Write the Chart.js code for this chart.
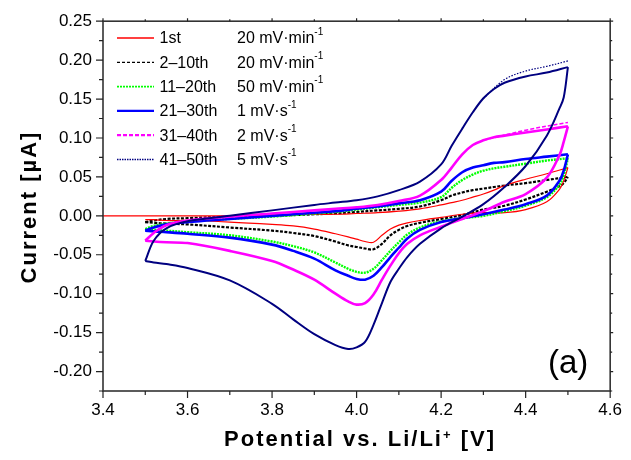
<!DOCTYPE html>
<html><head><meta charset="utf-8">
<script src="https://cdn.jsdelivr.net/npm/chart.js@4.4.0/dist/chart.umd.min.js"></script>
<style>html,body{margin:0;padding:0;background:#fff;}canvas{display:block}</style>
</head><body>
<canvas id="c" width="631" height="460"></canvas>
<script>
// ---- labels ----
const seriesNames = ['1st', '2–10th', '11–20th', '21–30th', '31–40th', '41–50th'];
const scanRates = ['20 mV·min', '20 mV·min', '50 mV·min', '1 mV·s', '2 mV·s', '5 mV·s'];
const rateExponent = '-1';
const xTicks = [3.4, 3.6, 3.8, 4.0, 4.2, 4.4, 4.6];
const xMinorTicks = [3.5, 3.7, 3.9, 4.1, 4.3, 4.5];
const yTicks = [-0.20, -0.15, -0.10, -0.05, 0.00, 0.05, 0.10, 0.15, 0.20, 0.25];
const yMinorTicks = [-0.225, -0.175, -0.125, -0.075, -0.025, 0.025, 0.075, 0.125, 0.175, 0.225];

// ---- anodic sweeps (3.5 V -> 4.5 V) ----
const anodicV    = [3.40, 3.45, 3.50, 3.52, 3.55, 3.60, 3.70, 3.80, 3.90, 3.95, 4.00, 4.05, 4.10, 4.15, 4.20, 4.225, 4.25, 4.275, 4.30, 4.325, 4.35, 4.40, 4.45, 4.50];
const red_an     = [0.000, 0.000, 0.000, 0.000, 0.000, 0.000, 0.000, 0.001, 0.002, 0.002, 0.003, 0.004, 0.006, 0.009, 0.014, 0.017, 0.020, 0.024, 0.028, 0.033, 0.039, 0.047, 0.054, 0.062];
const black_an   = [null, null, -0.008, -0.006, -0.004, -0.003, -0.001, 0.000, 0.002, 0.003, 0.005, 0.007, 0.009, 0.012, 0.020, 0.026, 0.030, 0.033, 0.035, 0.037, 0.039, 0.042, 0.046, 0.050];
const green_an   = [null, null, -0.017, -0.013, -0.010, -0.007, -0.004, -0.001, 0.003, 0.005, 0.008, 0.011, 0.014, 0.017, 0.024, 0.036, 0.046, 0.053, 0.058, 0.061, 0.063, 0.067, 0.071, 0.074];
const blue_an    = [null, null, -0.019, -0.015, -0.011, -0.008, -0.004, 0.000, 0.004, 0.006, 0.009, 0.012, 0.016, 0.020, 0.031, 0.045, 0.056, 0.062, 0.065, 0.068, 0.069, 0.073, 0.076, 0.079];
const magenta_an = [null, null, -0.032, -0.022, -0.012, -0.006, -0.001, 0.003, 0.007, 0.009, 0.011, 0.014, 0.019, 0.026, 0.046, 0.062, 0.079, 0.091, 0.097, 0.101, 0.103, 0.107, 0.111, 0.115];
const navy_an    = [null, null, -0.058, -0.032, -0.016, -0.007, 0.000, 0.007, 0.014, 0.017, 0.020, 0.025, 0.033, 0.044, 0.066, 0.090, 0.112, 0.133, 0.151, 0.163, 0.171, 0.179, 0.184, 0.191];

// ---- cathodic sweeps (4.5 V -> 3.5 V), listed by rising potential ----
const cathodicV  = [3.50, 3.52, 3.55, 3.60, 3.70, 3.80, 3.85, 3.90, 3.95, 3.98, 4.00, 4.02, 4.04, 4.06, 4.08, 4.10, 4.12, 4.15, 4.20, 4.25, 4.30, 4.35, 4.40, 4.45, 4.48, 4.49, 4.50];
const red_ca     = [-0.005, -0.005, -0.006, -0.006, -0.008, -0.011, -0.013, -0.017, -0.023, -0.027, -0.030, -0.033, -0.034, -0.025, -0.017, -0.012, -0.009, -0.006, -0.002, 0.002, 0.004, 0.004, 0.008, 0.018, 0.034, 0.045, 0.062];
const black_ca   = [-0.008, -0.009, -0.010, -0.011, -0.015, -0.019, -0.022, -0.026, -0.033, -0.038, -0.040, -0.042, -0.043, -0.036, -0.025, -0.018, -0.013, -0.009, -0.004, 0.001, 0.008, 0.013, 0.021, 0.031, 0.038, 0.042, 0.050];
const green_ca   = [-0.017, -0.018, -0.019, -0.021, -0.025, -0.033, -0.039, -0.047, -0.060, -0.068, -0.072, -0.073, -0.068, -0.057, -0.045, -0.034, -0.024, -0.015, -0.007, -0.003, 0.000, 0.006, 0.013, 0.024, 0.040, 0.052, 0.074];
const blue_ca    = [-0.019, -0.020, -0.021, -0.023, -0.028, -0.037, -0.045, -0.055, -0.070, -0.077, -0.081, -0.082, -0.077, -0.066, -0.053, -0.041, -0.029, -0.018, -0.008, -0.003, 0.002, 0.008, 0.015, 0.026, 0.045, 0.058, 0.079];
const magenta_ca = [-0.032, -0.033, -0.034, -0.035, -0.045, -0.058, -0.069, -0.082, -0.100, -0.110, -0.114, -0.112, -0.101, -0.082, -0.064, -0.048, -0.036, -0.025, -0.014, -0.004, 0.006, 0.018, 0.028, 0.049, 0.078, 0.095, 0.115];
const navy_ca    = [-0.058, -0.060, -0.062, -0.067, -0.083, -0.113, -0.133, -0.152, -0.166, -0.171, -0.169, -0.162, -0.140, -0.112, -0.085, -0.068, -0.053, -0.036, -0.016, -0.001, 0.015, 0.037, 0.064, 0.103, 0.138, 0.152, 0.191];

// ---- slightly higher first cycles at the vertex (dotted navy / dashed magenta) ----
const navyVertexV = [4.30, 4.35, 4.40, 4.45, 4.50];
const navyVertex  = [0.151, 0.175, 0.186, 0.192, 0.199];
const magentaVertexV = [4.30, 4.40, 4.50];
const magentaVertex  = [0.097, 0.110, 0.120];

const FONT = '"Liberation Sans", Arial, Helvetica, sans-serif';

const colors = ['#ff0000', '#000000', '#00ff00', '#0000ff', '#ff00ff', '#000080'];
const plotWidths = [1.2, 2.2, 2.4, 2.6, 2.6, 2.0];
const plotDash = [[], [3, 1.5], [2, 1], [], [], []];
const drawOrder = [4, 5, 3, 2, 1, 0];
const legendWidths = [1.3, 1.3, 1.6, 2.2, 2.2, 1.4];
const legendDash = [[], [3, 2], [2, 1], [], [4, 2], [1.5, 1]];

const anodicData = [red_an, black_an, green_an, blue_an, magenta_an, navy_an];
const cathodicData = [red_ca, black_ca, green_ca, blue_ca, magenta_ca, navy_ca];

function branch(xs, ys) {
  return xs.map((x, i) => ({x: x, y: ys[i]})).filter(p => p.y !== null);
}
function ds(label, data, i, dash) {
  return {
    label: label, data: data, showLine: true, borderColor: colors[i], backgroundColor: colors[i],
    borderWidth: plotWidths[i], borderDash: dash || plotDash[i], pointRadius: 0, pointHoverRadius: 0,
    tension: 0.35, fill: false, order: drawOrder[i]
  };
}
const datasets = [];
seriesNames.forEach((n, i) => {
  datasets.push(ds(n + ' anodic', branch(anodicV, anodicData[i]), i));
  datasets.push(ds(n + ' cathodic', branch(cathodicV, cathodicData[i]), i));
});
datasets.push(ds('41–50th first', branch(navyVertexV, navyVertex), 5, [1.5, 1.5]));
datasets[datasets.length - 1].borderWidth = 1.2;
datasets.push(ds('31–40th first', branch(magentaVertexV, magentaVertex), 4, [4, 2]));
datasets[datasets.length - 1].borderWidth = 1.5;

function drawRich(ctx, parts, x, y, align) {
  let total = 0;
  parts.forEach(p => { ctx.font = p.font; p.w = ctx.measureText(p.text).width; total += p.w; });
  let cx = align === 'center' ? x - total / 2 : x;
  parts.forEach(p => { ctx.font = p.font; ctx.fillText(p.text, cx, y + (p.dy || 0)); cx += p.w; });
}

const decor = {
  id: 'decor',
  afterDraw(chart) {
    const ctx = chart.ctx, a = chart.chartArea, xs = chart.scales.x, ys = chart.scales.y;
    ctx.save();
    // frame
    ctx.strokeStyle = '#333'; ctx.lineWidth = 1.6;
    ctx.strokeRect(a.left, a.top, a.right - a.left, a.bottom - a.top);
    // ticks
    ctx.lineWidth = 1.2; ctx.strokeStyle = '#222';
    ctx.beginPath();
    xTicks.forEach(v => { const p = xs.getPixelForValue(v); ctx.moveTo(p, a.bottom); ctx.lineTo(p, a.bottom + 7); ctx.moveTo(p, a.top); ctx.lineTo(p, a.top - 3); });
    xMinorTicks.forEach(v => { const p = xs.getPixelForValue(v); ctx.moveTo(p, a.bottom); ctx.lineTo(p, a.bottom + 4); ctx.moveTo(p, a.top); ctx.lineTo(p, a.top - 2); });
    yTicks.forEach(v => { const p = ys.getPixelForValue(v); ctx.moveTo(a.left, p); ctx.lineTo(a.left - 7, p); ctx.moveTo(a.right, p); ctx.lineTo(a.right + 3, p); });
    yMinorTicks.forEach(v => { const p = ys.getPixelForValue(v); ctx.moveTo(a.left, p); ctx.lineTo(a.left - 4, p); ctx.moveTo(a.right, p); ctx.lineTo(a.right + 2, p); });
    ctx.stroke();

    // legend
    const rowY = [38, 62.3, 86.6, 110.9, 135.2, 159.5];
    ctx.textBaseline = 'middle'; ctx.textAlign = 'left'; ctx.fillStyle = '#000';
    seriesNames.forEach((n, i) => {
      const y = rowY[i];
      ctx.beginPath(); ctx.strokeStyle = colors[i]; ctx.lineWidth = legendWidths[i]; ctx.setLineDash(legendDash[i]);
      ctx.moveTo(117, y); ctx.lineTo(154, y); ctx.stroke();
      ctx.setLineDash([]);
      ctx.fillStyle = '#000';
      ctx.font = '16px ' + FONT; ctx.fillText(n, 159.5, y + 1);
      drawRich(ctx, [{text: scanRates[i], font: '16px ' + FONT}, {text: rateExponent, font: '10px ' + FONT, dy: -7}], 237, y + 1, 'left');
    });

    // panel label
    ctx.font = '33px ' + FONT; ctx.textBaseline = 'alphabetic';
    ctx.fillText('(a)', 548, 373);

    // axis titles
    if ('letterSpacing' in ctx) ctx.letterSpacing = '2px';
    ctx.textBaseline = 'middle';
    drawRich(ctx, [
      {text: 'Potential vs. Li/Li', font: 'bold 22px ' + FONT},
      {text: '+', font: 'bold 13px ' + FONT, dy: -5},
      {text: ' [V]', font: 'bold 22px ' + FONT}
    ], 360, 440, 'center');
    ctx.save();
    ctx.translate(30, 207); ctx.rotate(-Math.PI / 2);
    drawRich(ctx, [{text: 'Current [µA]', font: 'bold 22px ' + FONT}], 0, 0, 'center');
    ctx.restore();
    if ('letterSpacing' in ctx) ctx.letterSpacing = '0px';
    ctx.restore();
  }
};

new Chart(document.getElementById('c'), {
  type: 'scatter',
  data: {datasets: datasets},
  options: {
    responsive: false, animation: false, devicePixelRatio: 1,
    layout: {padding: {left: 0, right: 18, top: 16, bottom: 0}},
    plugins: {legend: {display: false}, tooltip: {enabled: false}},
    scales: {
      x: {
        type: 'linear', min: 3.4, max: 4.6,
        afterBuildTicks: s => { s.ticks = xTicks.map(v => ({value: v})); },
        afterFit: s => { s.height = 69; },
        ticks: {callback: v => Number(v).toFixed(1), font: {family: FONT, size: 17}, color: '#000', padding: 9, maxRotation: 0, autoSkip: false},
        grid: {display: false, drawTicks: false}, border: {display: false}
      },
      y: {
        type: 'linear', min: -0.225, max: 0.25,
        afterBuildTicks: s => { s.ticks = yTicks.map(v => ({value: v})); },
        afterFit: s => { s.width = 103; },
        ticks: {callback: v => Number(v).toFixed(2), font: {family: FONT, size: 17}, color: '#000', padding: 11, autoSkip: false},
        grid: {display: false, drawTicks: false}, border: {display: false}
      }
    }
  },
  plugins: [decor]
});
</script>
</body></html>
